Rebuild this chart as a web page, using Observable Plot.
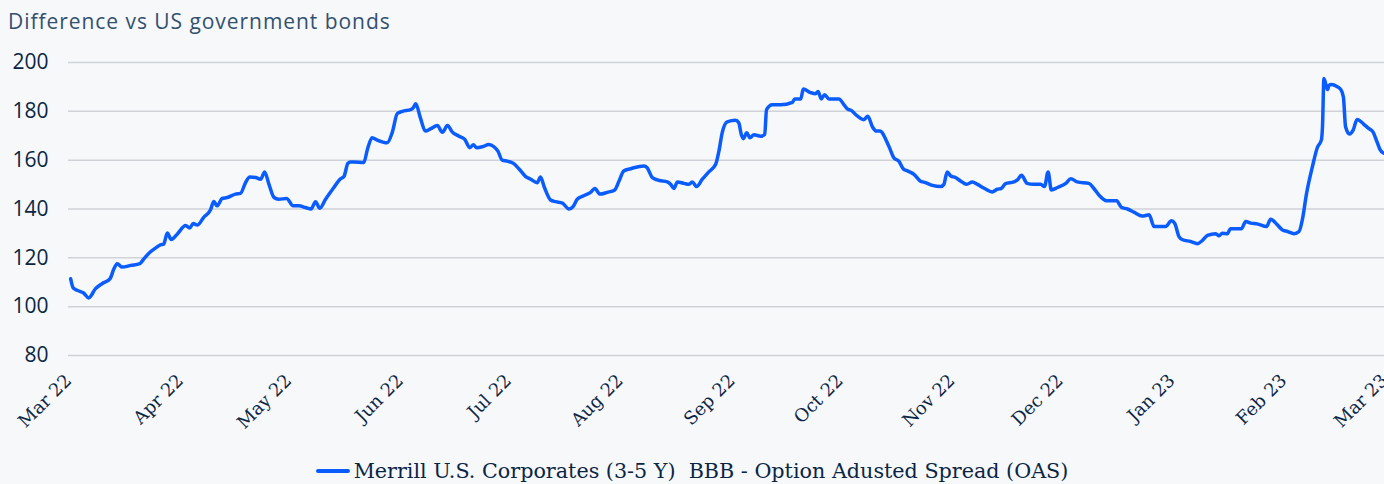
<!DOCTYPE html>
<html><head><meta charset="utf-8">
<script src="https://cdn.jsdelivr.net/npm/d3@7"></script>
<script src="https://cdn.jsdelivr.net/npm/@observablehq/plot@0.6"></script>
<style>
html,body{margin:0;padding:0;background:#f6f8fa;}
body{width:1384px;height:484px;position:relative;overflow:hidden;}
#title{position:absolute;left:8px;top:7px;font:21px "Open Sans",sans-serif;letter-spacing:0.95px;color:#34506f;white-space:nowrap;}
#chart{position:absolute;left:0;top:40px;}
#legend{position:absolute;left:0;width:1384px;top:460px;display:flex;justify-content:center;align-items:center;gap:4px;font:20.7px "DejaVu Serif",serif;line-height:22px;color:#0b2545;white-space:pre;}
#legend .sw{width:34px;height:4px;background:#0a5cff;border-radius:2px;}
</style></head>
<body>
<div id="title">Difference vs US government bonds</div>
<div id="chart"></div>
<div id="legend"><span class="sw"></span><span id="legendText"></span></div>
<script>
const title = "Difference vs US government bonds";
const seriesName = "Merrill U.S. Corporates (3-5 Y)  BBB - Option Adusted Spread (OAS)";
const startDate = "2022-03-01";
const endDate = "2023-03-01";
const yTicks = [80, 100, 120, 140, 160, 180, 200];
// days since 2022-03-01
const days = [0.6,1.3,2.4,4.2,5.6,7.5,9.3,11.5,12.6,13.5,14.9,17.3,19.8,20.9,22.6,24.1,25.5,26.4,27.4,28.5,30.2,32.5,33.6,34.6,35.7,37.5,39.4,40.3,41.2,42.6,44.0,46.3,47.7,49.1,50.3,51.9,53.3,54.4,55.6,57.0,58.3,60.5,62.3,63.9,65.7,67.3,68.5,69.7,71.3,73.6,75.3,76.4,77.5,78.2,
79.1,81.9,82.9,84.2,85.6,88.4,89.8,91.2,92.6,94.9,95.6,96.3,97.6,99.0,100.4,102.3,103.7,105.1,106.4,108.3,109.9,111.3,112.3,113.2,114.8,116.6,118.0,119.1,120.3,121.7,123.4,124.9,126.8,128.2,130.0,130.9,132.0,133.7,135.1,137.0,138.8,140.0,141.1,142.9,144.8,146.0,147.4,149.4,151.5,152.7,154.0,155.9,
156.8,159.6,160.5,161.9,163.3,166.1,167.0,167.9,168.9,170.7,172.1,173.0,174.2,175.8,177.6,179.5,180.4,181.3,182.7,185.0,185.9,186.6,187.2,188.1,189.0,190.1,192.0,193.1,193.6,195.2,197.5,200.8,201.4,203.1,203.8,205.8,207.2,207.9,208.8,209.7,210.9,213.7,214.9,216.0,217.1,218.3,220.6,221.7,223.0,224.1,225.0,
227.5,228.9,230.3,231.5,232.7,234.5,236.2,237.7,239.6,241.9,242.8,243.7,244.7,246.0,247.4,249.1,250.7,252.1,254.1,256.2,257.6,258.7,259.9,262.2,263.2,264.3,265.9,267.6,269.6,270.7,271.7,272.6,274.3,276.6,278.0,279.8,283.0,284.4,285.8,287.9,290.7,292.0,293.7,295.5,297.8,299.7,
301.1,304.3,305.9,306.8,308.0,309.0,311.2,313.1,314.5,315.9,318.2,319.1,320.0,321.4,322.3,325.3,326.5,327.9,329.7,332.3,333.4,335.3,336.7,338.1,339.9,341.3,342.2,343.4,345.0,346.4,347.5,347.8,348.2,349.2,349.6,350.3,351.8,352.9,353.6,354.2,355.3,356.3,357.4,359.2,360.6,361.8,362.9,363.8,364.7];
const spread = [111.4,107.7,106.7,105.6,103.6,107.4,109.4,111.4,115.5,117.6,116.2,116.9,117.6,119.6,122.3,124.0,125.3,125.6,130.2,127.5,129.8,133.2,132.2,134.1,133.4,136.6,139.7,143.1,141.3,144.3,144.7,146.1,146.4,150.8,153.1,152.9,152.2,155.2,150.1,144.7,144.0,144.3,141.3,141.3,140.6,140.0,143.0,140.3,144.0,148.8,152.2,153.3,158.7,159.2,
159.2,159.0,164.4,169.2,168.2,167.1,171.4,179.1,180.0,180.7,181.4,183.1,177.3,171.9,172.8,174.2,171.4,174.2,171.6,169.8,168.5,165.1,166.3,165.1,165.5,166.4,165.5,163.7,160.0,159.6,158.7,156.5,153.3,152.2,150.8,153.1,148.8,143.7,143.0,142.4,140.0,141.1,144.0,145.4,146.8,148.4,146.1,146.8,147.8,151.5,155.6,156.5,
156.9,157.6,156.9,152.9,151.9,151.1,150.1,148.4,151.1,150.5,150.1,151.1,149.2,152.2,155.2,158.3,163.7,171.2,175.7,176.3,175.3,170.5,168.8,171.2,169.2,170.4,169.8,170.5,180.7,182.7,182.7,183.7,185.1,185.1,189.1,187.7,187.2,188.1,185.1,186.8,185.1,185.1,183.1,181.0,180.4,178.7,176.6,178.0,173.6,171.9,171.9,
165.8,161.0,159.6,156.5,155.6,154.2,151.5,150.8,149.7,149.2,150.1,155.2,153.5,152.9,151.5,150.1,151.1,150.1,148.4,147.0,148.1,148.4,150.4,151.1,151.9,153.8,150.5,150.1,150.1,149.2,155.2,147.8,148.8,150.5,152.4,151.1,150.5,148.4,145.7,143.4,143.4,140.7,140.0,138.7,137.1,137.6,
132.8,132.8,135.2,134.2,128.7,127.4,126.7,125.8,127.1,129.2,129.9,129.0,130.1,129.9,131.9,131.9,134.9,134.2,133.9,132.8,135.8,133.5,131.4,130.8,129.9,130.8,135.5,146.5,157.3,165.3,168.3,173.7,193.4,188.9,190.6,191.0,190.2,188.9,185.9,173.7,170.7,172.3,176.7,174.8,173.0,171.6,167.6,164.2,162.9];

const t0 = Date.parse(startDate + "T00:00:00Z");
const data = days.map((d, i) => ({date: new Date(t0 + d * 864e5), value: spread[i]}));

document.getElementById("title").textContent = title;
document.getElementById("legendText").textContent = seriesName;

const chart = Plot.plot({
  width: 1384,
  height: 400,
  marginLeft: 68,
  marginRight: 0,
  marginTop: 22,
  marginBottom: 85,
  style: {background: "transparent", color: "#0b2545"},
  x: {type: "utc", domain: [new Date(startDate), new Date(endDate)]},
  y: {domain: [80, 200]},
  marks: [
    Plot.ruleY(yTicks, {stroke: "#cfd2d7", strokeWidth: 1.5}),
    Plot.axisY({ticks: yTicks, tickSize: 0, tickPadding: 20, fontSize: 21, fontFamily: "Open Sans", label: null}),
    Plot.axisX({ticks: "month", tickFormat: d3.utcFormat("%b %y"), tickRotate: -45, tickSize: 0, tickPadding: 22, fontSize: 18, fontFamily: "DejaVu Serif", label: null}),
    Plot.lineY(data, {x: "date", y: "value", stroke: "#0a5cff", strokeWidth: 3.5, curve: "monotone-x"})
  ]
});
document.getElementById("chart").appendChild(chart);
</script>
</body></html>
